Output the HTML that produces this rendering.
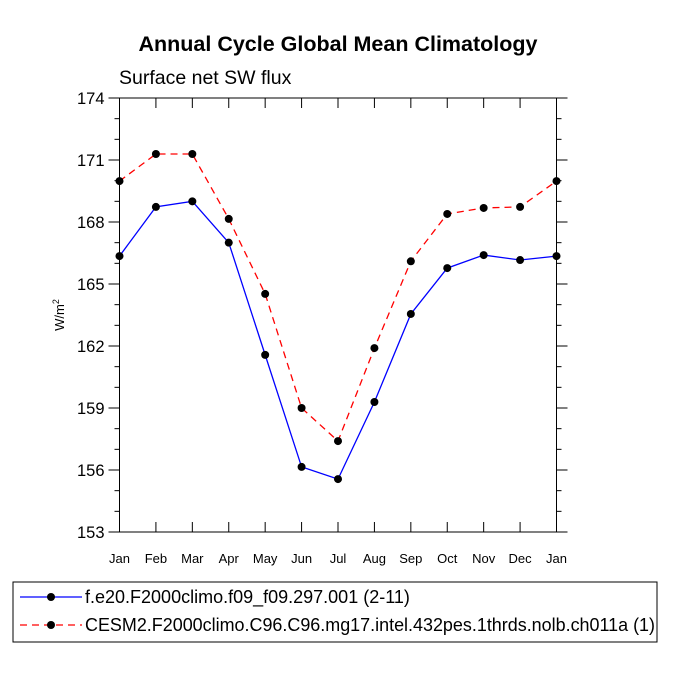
<!DOCTYPE html>
<html><head><meta charset="utf-8"><style>body{margin:0;background:#fff}svg{display:block}</style></head>
<body>
<svg id="chart" width="675" height="675" xmlns="http://www.w3.org/2000/svg" font-family="Liberation Sans, sans-serif">
<text x="338" y="51" text-anchor="middle" font-size="21.5" font-weight="bold">Annual Cycle Global Mean Climatology</text>
<text x="119" y="84" font-size="19.5">Surface net SW flux</text>
<text transform="translate(64,315) rotate(-90)" text-anchor="middle" font-size="13">W/m<tspan dy="-5" font-size="9">2</tspan></text>
<g id="axes"></g><g id="series"></g>
<rect x="13" y="582" width="644" height="60" fill="none" stroke="#000" stroke-width="1"/>
<g id="legend"></g>
</svg>
<script>
const months=["Jan","Feb","Mar","Apr","May","Jun","Jul","Aug","Sep","Oct","Nov","Dec","Jan"];
const yTicks=[153,156,159,162,165,168,171,174];
const seriesNames=["f.e20.F2000climo.f09_f09.297.001 (2-11)","CESM2.F2000climo.C96.C96.mg17.intel.432pes.1thrds.nolb.ch011a (1)"];
const blueValues=[166.35,168.73,169.0,167.0,161.57,156.15,155.56,159.29,163.55,165.77,166.4,166.16,166.35];
const redValues=[169.98,171.29,171.29,168.15,164.52,159.0,157.4,161.9,166.1,168.39,168.68,168.73,169.98];
const X0=119.5,X1=556.5,Y0=98,Y1=532,YMIN=153,YMAX=174;
const xs=i=>X0+(X1-X0)*i/(months.length-1);
const ys=v=>Y1-(v-YMIN)/(YMAX-YMIN)*(Y1-Y0);
const NS="http://www.w3.org/2000/svg";
function mk(p,t,a){const e=document.createElementNS(NS,t);for(const k in a)e.setAttribute(k,a[k]);p.appendChild(e);return e;}
const ax=document.getElementById('axes');
let f=mk(ax,'rect',{x:X0,y:Y0,width:X1-X0,height:Y1-Y0,fill:'none',stroke:'#000','stroke-width':1});


for(let v=YMIN;v<=YMAX;v++){const y=ys(v);const maj=(v-YMIN)%3===0;const L=maj?11:5;
 mk(ax,'line',{x1:X0-L,y1:y,x2:X0,y2:y,stroke:'#000'});mk(ax,'line',{x1:X1,y1:y,x2:X1+L,y2:y,stroke:'#000'});}
yTicks.forEach(v=>{const t=mk(ax,'text',{x:X0-15,y:ys(v)+6,'text-anchor':'end','font-size':16.5});t.textContent=v;
 
 });
months.forEach((m,i)=>{const x=xs(i);mk(ax,'line',{x1:x,y1:Y1,x2:x,y2:Y1-10,stroke:'#000'});mk(ax,'line',{x1:x,y1:Y0,x2:x,y2:Y0+10,stroke:'#000'});
 const t=mk(ax,'text',{x:x,y:Y1+31,'text-anchor':'middle','font-size':13});t.textContent=m;
 
 });
const sg=document.getElementById('series');
function draw(vals,color,dash,name){const g=mk(sg,'g',{});
 
 
 mk(g,'polyline',{points:vals.map((v,i)=>xs(i)+','+ys(v)).join(' '),fill:'none',stroke:color,'stroke-width':1.3,'stroke-dasharray':dash});
 vals.forEach((v,i)=>{const c=mk(g,'circle',{cx:xs(i),cy:ys(v),r:4,fill:'#000'});
  
  });}
draw(blueValues,'#0000ff','none','series-f-e20');
draw(redValues,'#ff0000','7,5','series-cesm2');
const lg=document.getElementById('legend');
[['#0000ff','none',597],['#ff0000','7,5',625]].forEach((s,i)=>{const g=mk(lg,'g',{});
 
 
 mk(g,'line',{x1:20,y1:s[2],x2:82,y2:s[2],stroke:s[0],'stroke-width':1.3,'stroke-dasharray':s[1]});
 mk(g,'circle',{cx:51,cy:s[2],r:4,fill:'#000'});
 const t=mk(g,'text',{x:85,y:s[2]+6,'font-size':18,textLength:570,lengthAdjust:'spacingAndGlyphs'});
 if(i===0)t.removeAttribute('textLength');
 t.textContent=seriesNames[i];});
</script>
</body></html>
